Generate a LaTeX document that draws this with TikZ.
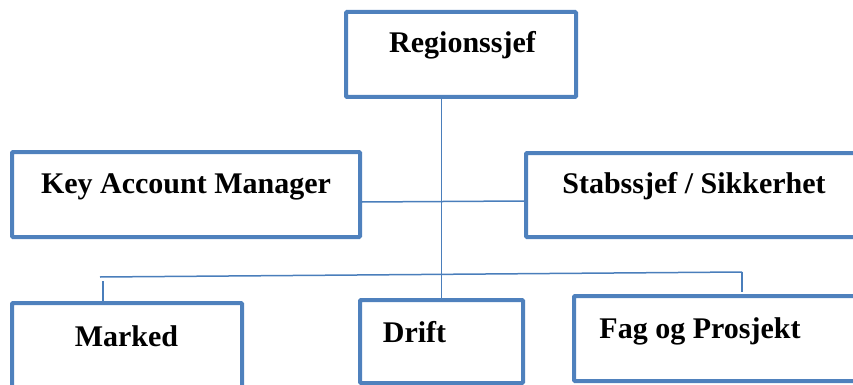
\documentclass[tikz,border=0pt]{standalone}
\usepackage{fontspec}
\setmainfont{Liberation Serif}
\definecolor{boxblue}{HTML}{4F81BD}
\definecolor{lineblue}{HTML}{4A7EBB}
\begin{document}
\begin{tikzpicture}[x=1pt,y=-1pt,
  orgbox/.style={draw=boxblue, line width=4pt, rounded corners=1pt, fill=none, inner sep=0pt, minimum width=#1},
  lbl/.style={font=\fontsize{30}{34}\selectfont\bfseries, inner sep=0pt, anchor=base},
  conn/.style={draw=lineblue, line width=1.5pt}]
\useasboundingbox (0,0) rectangle (853,385);
\clip (0,0) rectangle (853,385);
% boxes
\node[orgbox=230pt, minimum height=85pt] (R) at (461,54.5) {};
\node[orgbox=348pt, minimum height=85pt] (K) at (186,194.5) {};
\node[orgbox=344pt, minimum height=84pt] (S) at (698,195) {};
\node[orgbox=230pt, minimum height=100pt] (M) at (127,353) {};
\node[orgbox=163pt, minimum height=83pt] (D) at (441.5,341.5) {};
\node[orgbox=296pt, minimum height=85pt] (F) at (722,338.5) {};
% texts
\node[lbl] (tR) at (462.5,53) {Regionssjef};
\node[lbl] (tK) at (186,193) {Key Account Manager};
\node[lbl] (tS) at (694,193) {Stabssjef / Sikkerhet};
\node[lbl] (tM) at (126.5,346) {Marked};
\node[lbl] (tD) at (414.5,342) {Drift};
\node[lbl] (tF) at (700,338) {Fag og Prosjekt};
% connector coordinates
\coordinate (kR) at (K.east |- 0,202);
\coordinate (sL) at (S.west |- 0,201);
\coordinate (busL) at (100,277);
\coordinate (busR) at (742,272);
\coordinate (mTop) at (103,281);
\coordinate (fTop) at (742,292);
% connectors
\draw[conn] (R.south -| D.north) -- (D.north);
\draw[conn] (kR) -- (sL);
\draw[conn] (busL) -- (busR);
\draw[conn] (mTop) -- (M.north -| mTop);
\draw[conn] (busR) -- (fTop);
\end{tikzpicture}
\end{document}
